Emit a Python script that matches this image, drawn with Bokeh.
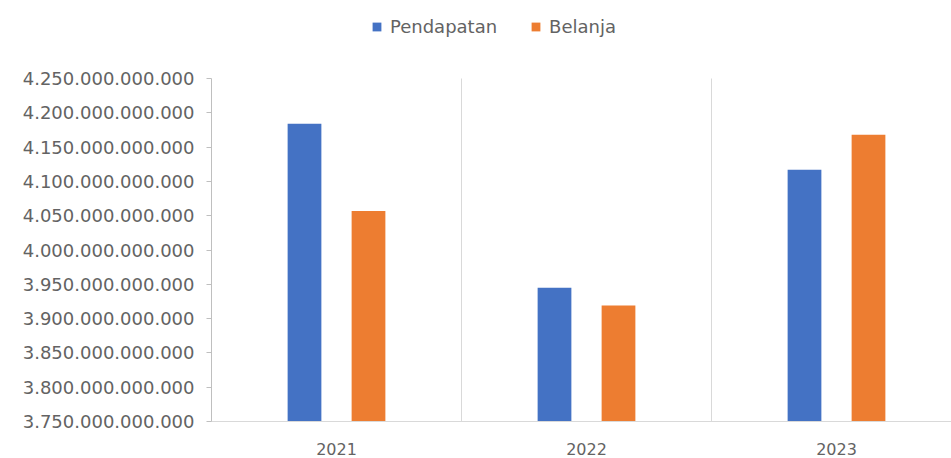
from bokeh.plotting import figure
from bokeh.models import (Range1d, FixedTicker, Legend, LegendItem,
                          ColumnDataSource, CustomJSTickFormatter)
from bokeh.embed import file_html
from bokeh.resources import INLINE

years = ["2021", "2022", "2023"]
pendapatan = [4.184e12, 3.945e12, 4.117e12]
belanja = [4.057e12, 3.919e12, 4.168e12]
series_names = ["Pendapatan", "Belanja"]
colors = ["#4472C4", "#ED7D31"]
y_min, y_max, y_step = 3.75e12, 4.25e12, 5e10
y_ticks = [y_min + k * y_step for k in range(11)]

FONT = "DejaVu Sans"
TXT = "#636363"

W, H = 951, 458
LEFT, BOTTOM = 211, 37
FRAME_H = H - BOTTOM            # frame spans the full top so the legend is not clipped
AXIS_PX = 343                   # pixel height of y_min..y_max
y_end = y_min + (y_max - y_min) * FRAME_H / AXIS_PX

idx = list(range(len(years)))
src = ColumnDataSource(dict(
    x1=[i - 0.128 for i in idx], x2=[i + 0.128 for i in idx],
    pendapatan=pendapatan, belanja=belanja))

p = figure(width=W, height=H, output_backend="svg", toolbar_location=None,
           x_range=Range1d(-0.5, -0.5 + (W - LEFT) / 250), y_range=Range1d(y_min, y_end),
           min_border_left=LEFT, min_border_right=0, min_border_top=0, min_border_bottom=BOTTOM)
p.outline_line_color = None
p.background_fill_color = "white"
p.border_fill_color = "white"
p.xgrid.grid_line_color = None
p.ygrid.grid_line_color = None

# category separators
p.segment(x0=[i + 0.5 for i in idx[:-1]], x1=[i + 0.5 for i in idx[:-1]],
          y0=y_min, y1=y_max, line_color="#d9d9d9", line_width=1)

r1 = p.vbar(x="x1", top="pendapatan", bottom=y_min, width=0.135, source=src,
            fill_color=colors[0], line_color=None)
r2 = p.vbar(x="x2", top="belanja", bottom=y_min, width=0.135, source=src,
            fill_color=colors[1], line_color=None)

# x axis
p.xaxis.ticker = FixedTicker(ticks=idx)
p.xaxis.major_label_overrides = {i: y for i, y in zip(idx, years)}
p.xaxis.major_tick_line_color = None
p.xaxis.minor_tick_line_color = None
p.xaxis.axis_line_color = "#d9d9d9"
p.xaxis.major_label_text_font = FONT
p.xaxis.major_label_text_font_size = "16px"
p.xaxis.major_label_text_color = TXT
p.xaxis.major_label_standoff = 15

# y axis
p.yaxis.ticker = FixedTicker(ticks=y_ticks)
p.yaxis.bounds = (y_min, y_max)
p.yaxis.formatter = CustomJSTickFormatter(
    code="return Math.round(tick).toString().replace(/\\B(?=(\\d{3})+(?!\\d))/g, '.');")
p.yaxis.axis_line_color = "#bfbfbf"
p.yaxis.major_tick_line_color = "#bfbfbf"
p.yaxis.major_tick_out = 5
p.yaxis.major_tick_in = 0
p.yaxis.minor_tick_line_color = None
p.yaxis.major_label_text_font = FONT
p.yaxis.major_label_text_font_size = "18px"
p.yaxis.major_label_text_color = TXT
p.yaxis.major_label_standoff = 12

legend = Legend(items=[LegendItem(label=series_names[0], renderers=[r1]),
                       LegendItem(label=series_names[1], renderers=[r2])],
                orientation="horizontal", location=(160, FRAME_H - 37))
legend.border_line_color = None
legend.background_fill_alpha = 0
legend.glyph_width = 11
legend.glyph_height = 11
legend.label_text_font = FONT
legend.label_text_font_size = "18px"
legend.label_text_color = TXT
legend.label_standoff = 8
legend.spacing = 33
legend.padding = 0
legend.margin = 0
p.add_layout(legend, "center")

open("out.html", "w").write(file_html(p, INLINE))
